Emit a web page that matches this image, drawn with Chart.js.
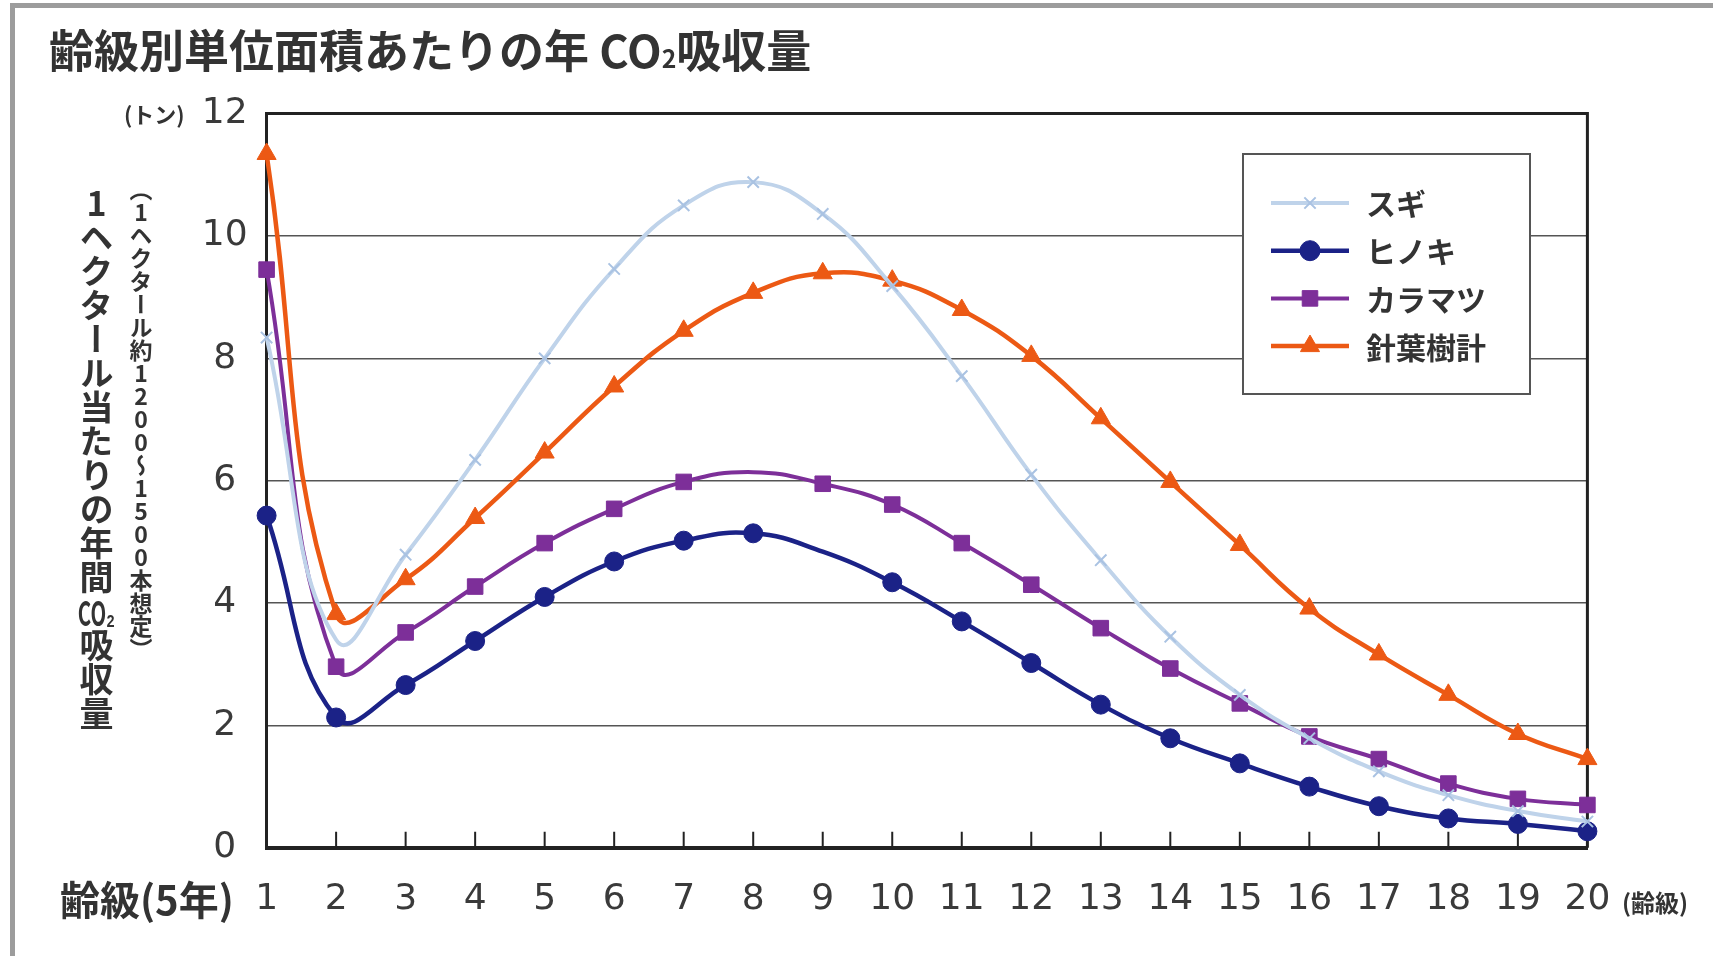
<!DOCTYPE html>
<html lang="ja">
<head>
<meta charset="utf-8">
<script src="https://cdn.jsdelivr.net/npm/chart.js@4.4.1/dist/chart.umd.min.js"></script>
<style>
    body { margin: 0; background: #fff; }
    #wrap { position: relative; width: 1713px; height: 956px; overflow: hidden; }
    #frame {
        position: absolute; left: 10px; top: 3px; width: 1700px; height: 960px;
        border-left: 5px solid #9c9c9c; border-top: 5px solid #9c9c9c; border-right: 2px solid #e0e0e0;
    }
    canvas { position: absolute; left: 0; top: 0; }
    .txt { position: absolute; font-family: "Noto Sans CJK JP", sans-serif; color: #333; white-space: nowrap; }
    #title { left: 49px; top: 26px; font-size: 45px; line-height: 45px; font-weight: bold; }
    #ytitle {
        left: 79px; top: 186px; font-size: 34px; line-height: 34px; font-weight: bold;
        writing-mode: vertical-rl; text-orientation: upright;
    }
    #ytitle2 {
        left: 129px; top: 178px; font-size: 23px; line-height: 23px; font-weight: bold;
        writing-mode: vertical-rl; text-orientation: upright;
    }
    .tcy { text-combine-upright: all; }
    #unit { left: 124px; top: 101px; font-size: 22px; line-height: 24px; font-weight: bold; }
    #xtitle { left: 60px; top: 877px; font-size: 40px; line-height: 42px; font-weight: bold; }
    #xunit { left: 1622px; top: 888px; font-size: 24px; line-height: 28px; font-weight: bold; }
</style>
</head>
<body>
<div id="wrap">
    <div id="frame"></div>
    <canvas id="grafico" width="1713" height="956"></canvas>
    <div class="txt" id="title">齢級別単位面積あたりの年 CO<span style="font-size:0.55em">2</span>吸収量</div>
    <div class="txt" id="unit">(トン)</div>
    <div class="txt" id="ytitle">1ヘクタール当たりの年間<span class="tcy">CO₂</span>吸収量</div>
    <div class="txt" id="ytitle2">（1ヘクタール約1200～1500本想定）</div>
    <div class="txt" id="xtitle">齢級(5年)</div>
    <div class="txt" id="xunit">(齢級)</div>
</div>
<script>
// 齢級 1..20
const reikyu = ["1", "2", "3", "4", "5", "6", "7", "8", "9", "10",
    "11", "12", "13", "14", "15", "16", "17", "18", "19", "20"];

const sugi = [8.34, 3.4, 4.79, 6.34, 8.0, 9.46, 10.5, 10.88, 10.36, 9.18,
    7.71, 6.1, 4.7, 3.45, 2.5, 1.79, 1.25, 0.86, 0.6, 0.43];

const hinoki = [5.43, 2.13, 2.66, 3.38, 4.1, 4.68, 5.02, 5.14, 4.84, 4.34,
    3.7, 3.02, 2.34, 1.79, 1.38, 1.0, 0.68, 0.48, 0.39, 0.27];

const karamatsu = [9.45, 2.96, 3.52, 4.27, 4.98, 5.54, 5.98, 6.14, 5.95, 5.61,
    4.98, 4.3, 3.59, 2.93, 2.36, 1.82, 1.45, 1.05, 0.8, 0.7];

const shinyojuKei = [11.34, 3.82, 4.39, 5.39, 6.46, 7.54, 8.45, 9.07, 9.39, 9.27,
    8.79, 8.04, 7.02, 5.98, 4.95, 3.91, 3.16, 2.5, 1.86, 1.45];

const yTicks = [0, 2, 4, 6, 8, 10, 12];

// some markers are missing in the original figure
function raios(n, r, semMarca) {
    const arr = [];
    for (let i = 0; i < n; i++) arr.push(semMarca.includes(i) ? 0 : r);
    return arr;
}

const area = { left: 266.6, right: 125.6, top: 113.6, bottom: 108.2 };

const molduraPlugin = {
    id: "moldura",
    beforeDatasetsDraw(chart) {
        const ctx = chart.ctx;
        const ca = chart.chartArea;
        const xs = chart.scales.x;
        ctx.save();
        ctx.strokeStyle = "#222";
        ctx.lineWidth = 3;
        ctx.beginPath();
        ctx.moveTo(ca.left, ca.top);
        ctx.lineTo(ca.right, ca.top);
        ctx.lineTo(ca.right, ca.bottom);
        ctx.stroke();
        // tick marks pointing up into the plot
        ctx.lineWidth = 2;
        ctx.beginPath();
        for (let i = 1; i < reikyu.length - 1; i++) {
            const x = xs.getPixelForTick(i);
            ctx.moveTo(x, ca.bottom);
            ctx.lineTo(x, ca.bottom - 16);
        }
        ctx.stroke();
        ctx.restore();
    }
};

const legendaPlugin = {
    id: "legenda",
    afterDatasetsDraw(chart) {
        const ctx = chart.ctx;
        const box = { x: 1243, y: 154, w: 287, h: 240 };
        ctx.save();
        ctx.fillStyle = "#fff";
        ctx.fillRect(box.x, box.y, box.w, box.h);
        ctx.strokeStyle = "#555";
        ctx.lineWidth = 2;
        ctx.strokeRect(box.x, box.y, box.w, box.h);
        chart.data.datasets.forEach((ds, i) => {
            const y = 203 + i * 47.7;
            ctx.strokeStyle = ds.borderColor;
            ctx.lineWidth = ds.borderWidth;
            ctx.beginPath();
            ctx.moveTo(1271, y);
            ctx.lineTo(1349, y);
            ctx.stroke();
            ctx.fillStyle = ds.pointBackgroundColor;
            ctx.strokeStyle = ds.pointBorderColor;
            ctx.lineWidth = ds.pointBorderWidth;
            Chart.helpers.drawPoint(ctx, {
                pointStyle: ds.pointStyle,
                radius: ds.legendRadius,
                rotation: 0,
                borderWidth: ds.pointBorderWidth
            }, 1310, y);
            ctx.fillStyle = "#333";
            ctx.font = "bold 30px 'Noto Sans CJK JP'";
            ctx.textBaseline = "middle";
            ctx.textAlign = "left";
            ctx.fillText(ds.label, 1366, y + 1);
        });
        ctx.restore();
    }
};

new Chart(
    document.getElementById("grafico"),
    {
        type: "line",
        data: {
            labels: reikyu,
            datasets: [{
                label: "スギ",
                data: sugi,
                borderColor: "#bfd3ea",
                borderWidth: 4,
                pointStyle: "crossRot",
                pointRadius: raios(20, 8, [1]),
                legendRadius: 8,
                pointBorderColor: "#a9c2e2",
                pointBackgroundColor: "#a9c2e2",
                pointBorderWidth: 2
            }, {
                label: "ヒノキ",
                data: hinoki,
                borderColor: "#1b2287",
                borderWidth: 4.5,
                pointStyle: "circle",
                pointRadius: raios(20, 9.5, [8]),
                legendRadius: 10,
                pointBorderColor: "#1b2287",
                pointBackgroundColor: "#1b2287",
                pointBorderWidth: 1
            }, {
                label: "カラマツ",
                data: karamatsu,
                borderColor: "#7d2f99",
                borderWidth: 4,
                pointStyle: "rect",
                pointRadius: raios(20, 11, [7]),
                legendRadius: 11,
                pointBorderColor: "#7d2f99",
                pointBackgroundColor: "#7d2f99",
                pointBorderWidth: 1
            }, {
                label: "針葉樹計",
                data: shinyojuKei,
                borderColor: "#ec5914",
                borderWidth: 4.5,
                pointStyle: "triangle",
                pointRadius: raios(20, 11, []),
                legendRadius: 11,
                pointBorderColor: "#ec5914",
                pointBackgroundColor: "#ec5914",
                pointBorderWidth: 1
            }]
        },
        options: {
            responsive: false,
            animation: false,
            devicePixelRatio: 1,
            events: [],
            layout: {
                padding: { left: 0, right: area.right, top: area.top, bottom: 0 }
            },
            elements: {
                line: { tension: 0.45, cubicInterpolationMode: "default" }
            },
            datasets: { line: { clip: false } },
            plugins: {
                legend: { display: false },
                tooltip: { enabled: false }
            },
            scales: {
                x: {
                    offset: false,
                    grid: { display: false, drawTicks: false },
                    border: { display: true, color: "#222", width: 4 },
                    ticks: {
                        padding: 30,
                        color: "#3a3a3a",
                        font: { family: "DejaVu Sans", size: 36 },
                        maxRotation: 0,
                        autoSkip: false
                    },
                    afterFit(scale) { scale.height = area.bottom; }
                },
                y: {
                    min: 0,
                    max: 12,
                    afterBuildTicks(scale) {
                        scale.ticks = yTicks.map(v => ({ value: v }));
                    },
                    grid: { color: "#555", lineWidth: 1.5, drawTicks: false },
                    border: { display: true, color: "#222", width: 3 },
                    ticks: {
                        padding: 19,
                        crossAlign: "center",
                        color: "#3a3a3a",
                        font: { family: "DejaVu Sans", size: 36 }
                    },
                    afterFit(scale) { scale.width = area.left; }
                }
            }
        },
        plugins: [molduraPlugin, legendaPlugin]
    }
);
</script>
</body>
</html>
